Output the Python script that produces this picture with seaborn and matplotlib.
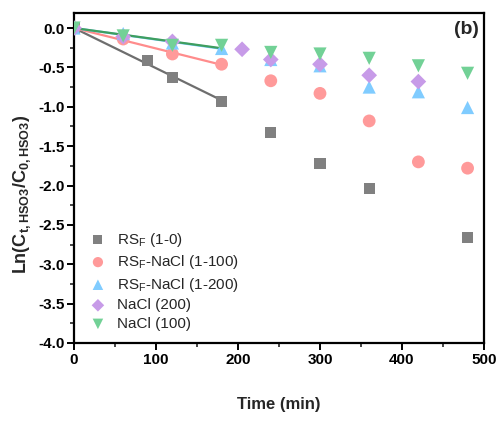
import numpy as np
import pandas as pd
import matplotlib
matplotlib.use("Agg")
import matplotlib.pyplot as plt
import seaborn as sns
from matplotlib.ticker import MultipleLocator

# ---- data ----
labels = ["RS$_\\mathregular{F}$ (1-0)", "RS$_\\mathregular{F}$-NaCl (1-100)",
          "RS$_\\mathregular{F}$-NaCl (1-200)", "NaCl (200)", "NaCl (100)"]
t_rs = [0, 90, 120, 180, 240, 300, 360, 480]
y_rs = [0, -0.41, -0.63, -0.93, -1.33, -1.72, -2.04, -2.66]
t_p = [0, 60, 120, 180, 240, 300, 360, 420, 480]
y_p = [0, -0.14, -0.33, -0.46, -0.67, -0.83, -1.18, -1.70, -1.78]
t_b = [0, 60, 120, 180, 240, 300, 360, 420, 480]
y_b = [0, -0.07, -0.19, -0.26, -0.40, -0.48, -0.75, -0.81, -1.01]
t_pu = [0, 60, 120, 205, 240, 300, 360, 420]
y_pu = [0, -0.11, -0.17, -0.27, -0.40, -0.46, -0.60, -0.68]
t_g = [0, 60, 120, 180, 240, 300, 360, 420, 480]
y_g = [0, -0.10, -0.22, -0.22, -0.31, -0.33, -0.385, -0.48, -0.575]

series_t = [t_rs, t_p, t_b, t_pu, t_g]
series_y = [y_rs, y_p, y_b, y_pu, y_g]

colors = ["#808080", "#ff9a9a", "#80ccff", "#c79be8", "#72d196"]
line_colors = ["#6e6e6e", "#ff8c8c", "#70c8ff", None, "#3f9e5e"]
markers = ["s", "o", "^", "D", "v"]
sizes = [66, 85, 90, 64, 90]

rows = []
for lab, ts, ys in zip(labels, series_t, series_y):
    for t, y in zip(ts, ys):
        rows.append({"Time": t, "val": y, "series": lab})
df = pd.DataFrame(rows)

sns.set_theme(style="ticks")
plt.rcParams['font.family'] = ['Liberation Sans', 'DejaVu Sans']
plt.rcParams['mathtext.fontset'] = 'custom'
plt.rcParams['mathtext.rm'] = 'Liberation Sans'
plt.rcParams['mathtext.bf'] = 'Liberation Sans:bold'

fig = plt.figure(figsize=(5.02, 4.21), dpi=100)
ax = fig.add_axes([0.1474, 0.1853, 0.8167, 0.7837])

# fitted lines (first 180 min), drawn under markers
for ts, ys, lc in zip(series_t, series_y, line_colors):
    if lc is None:
        continue
    ta = np.array(ts, float)
    ya = np.array(ys, float)
    m = ta <= 180
    k = np.sum(ta[m] * ya[m]) / np.sum(ta[m] ** 2)
    xx = np.array([0, 180])
    ax.plot(xx, k * xx, color=lc, lw=1.6, zorder=1)

for lab, c, mk, s in zip(labels, colors, markers, sizes):
    sub = df[df["series"] == lab]
    sns.scatterplot(data=sub, x="Time", y="val", ax=ax, color=c, marker=mk,
                    s=s, edgecolor="none", label=lab, zorder=3)

ax.set_xlim(0, 500)
ax.set_ylim(-4.0, 0.19)
ax.xaxis.set_major_locator(MultipleLocator(100))
ax.xaxis.set_minor_locator(MultipleLocator(50))
ax.yaxis.set_major_locator(MultipleLocator(0.5))
ax.yaxis.set_minor_locator(MultipleLocator(0.25))
ax.yaxis.set_major_formatter(matplotlib.ticker.FormatStrFormatter('%.1f'))

for sp in ax.spines.values():
    sp.set_linewidth(1.6)
    sp.set_color("black")
ax.tick_params(which="major", direction="out", length=5, width=1.4,
               labelsize=11, pad=2, colors="black")
ax.tick_params(which="minor", direction="out", length=3, width=1.2)
for lbl in ax.get_xticklabels() + ax.get_yticklabels():
    lbl.set_fontweight("bold")

ax.set_xlabel("Time (min)", fontsize=12, fontweight="bold", labelpad=22)
ax.set_ylabel("Ln(C$_\\mathbf{t,HSO3}$/C$_\\mathbf{0,HSO3}$)", fontsize=13,
              fontweight="bold")
ax.yaxis.set_label_coords(-0.10, 0.45)

ax.text(0.988, 0.975, "(b)", transform=ax.transAxes, ha="right", va="top",
        fontsize=14, fontweight="bold")

leg = ax.legend(loc="lower left", bbox_to_anchor=(-0.005, -0.005), frameon=False,
                fontsize=11, handletextpad=0.45, labelspacing=0.3,
                borderaxespad=0.5, markerscale=0.8, handlelength=1.6)

fig.savefig("out.png", dpi=100)
